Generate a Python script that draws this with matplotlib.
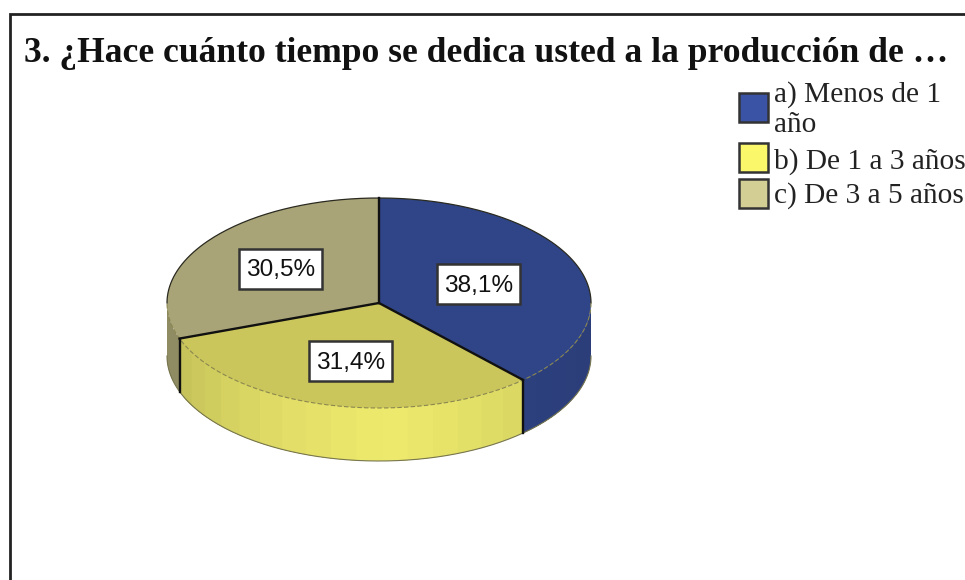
import numpy as np
import matplotlib
matplotlib.use("Agg")
import matplotlib.pyplot as plt
from matplotlib.patches import Rectangle

# datos
title = "3. ¿Hace cuánto tiempo se dedica usted a la producción de …"
categories = ["a) Menos de 1\naño", "b) De 1 a 3 años", "c) De 3 a 5 años"]
values = [38.1, 31.4, 30.5]
labels = ["38,1%", "31,4%", "30,5%"]

top_colors = ["#2F4588", "#CBC65B", "#A9A478"]
wall_colors = ["#2E4282", "#EDE96C", "#8F8B62"]
legend_colors = ["#3A53A4", "#FBF76B", "#D3CE94"]

W, H = 965, 580
fig = plt.figure(figsize=(W / 100, H / 100), dpi=100, facecolor="white")

# capa en pixeles para marco, titulo y leyenda
bg = fig.add_axes([0, 0, 1, 1])
bg.set_xlim(0, W)
bg.set_ylim(H, 0)
bg.axis("off")
bg.plot([10, 10, W + 5], [H + 5, 14, 14], color="#222222", lw=2, solid_joinstyle="miter")
bg.text(24, 61.5, title, family="Liberation Serif", weight="bold", fontsize=25.6,
        color="#111111", va="baseline", ha="left")

legend_y = [107, 157.5, 193]
text_y = [102, 169, 203]
for cat, col, sy, ty in zip(categories, legend_colors, legend_y, text_y):
    bg.add_patch(Rectangle((738.5, sy - 14.5), 29.5, 29, facecolor=col, edgecolor="#333333", lw=1.8))
    for k, line in enumerate(cat.split("\n")):
        bg.text(774, ty + 30 * k, line, family="Liberation Serif", fontsize=21.2, color="#222222",
                va="baseline", ha="left", clip_on=True)

# tarta: el eje se ajusta a la elipse superior
cx, cy, rx, ry, depth = 379, 303, 212, 105, 53
ax = fig.add_axes([(cx - rx) / W, 1 - (cy + ry) / H, 2 * rx / W, 2 * ry / H])
ax.pie(values, colors=top_colors, startangle=90, counterclock=False, radius=1,
       wedgeprops={"linewidth": 0, "zorder": 3})
ax.set_aspect("auto")
ax.set_xlim(-1, 1)
ax.set_ylim(-1, 1)
ax.axis("off")

d = depth / ry
edges = np.cumsum([0] + values) / 100 * 360  # grados desde arriba, sentido horario
falloff = [0.06, 0.17, 0.0]


def shade(color, t):
    rgb = np.array(matplotlib.colors.to_rgb(color))
    return tuple(rgb * t)


# pared lateral a tiras, solo la mitad delantera
for i in range(len(values)):
    a0 = max(edges[i], 90)
    a1 = min(edges[i + 1], 270)
    if a1 <= a0:
        continue
    steps = np.arange(a0, a1, 7)
    for s0 in steps:
        # cada tira llega hasta el final del sector para que no queden juntas claras
        th = np.radians(np.linspace(s0, a1, 40))
        x, y = np.sin(th), np.cos(th)
        mid = s0 + 3.5
        t = 1.0 - falloff[i] * np.clip(abs(mid - 178) / 70, 0, 1) ** 1.3
        ax.fill(np.r_[x, x[::-1]], np.r_[y, y[::-1] - d], color=shade(wall_colors[i], t),
                lw=0, zorder=1, clip_on=False)

# contorno
th = np.radians(np.linspace(-90, 90, 200))
ax.plot(np.sin(th), np.cos(th), color="#2A2A20", lw=0.9, zorder=4, clip_on=False)
th = np.radians(np.linspace(90, 270, 200))
ax.plot(np.sin(th), np.cos(th), color="#8A8750", lw=0.8, ls=(0, (4, 2)), zorder=4, clip_on=False)
ax.plot(np.sin(th), np.cos(th) - d, color="#77764F", lw=0.8, zorder=2, clip_on=False)

# radios y aristas verticales
for e in edges[:-1]:
    a = np.radians(e)
    ax.plot([0, np.sin(a)], [0, np.cos(a)], color="#111111", lw=1.7, zorder=5, clip_on=False)
    if 90 < e < 270:
        ax.plot([np.sin(a)] * 2, [np.cos(a), np.cos(a) - d], color="#111111", lw=1.7,
                zorder=5, clip_on=False)

# etiquetas en caja blanca
label_px = [(478.5, 284.5), (350.5, 361.5), (280.5, 269)]
box_w, box_h = 83, 40
for lab, (px, py) in zip(labels, label_px):
    ax.add_patch(Rectangle(((px - box_w / 2 - cx) / rx, (cy - py - box_h / 2) / ry),
                           box_w / rx, box_h / ry, facecolor="white", edgecolor="#333333",
                           lw=1.8, zorder=6))
    ax.text((px - cx) / rx, (cy - py - 1.5) / ry, lab, family="Liberation Sans", fontsize=17.6,
            color="#111111", ha="center", va="center", zorder=7)

fig.savefig("out.png", dpi=100)
